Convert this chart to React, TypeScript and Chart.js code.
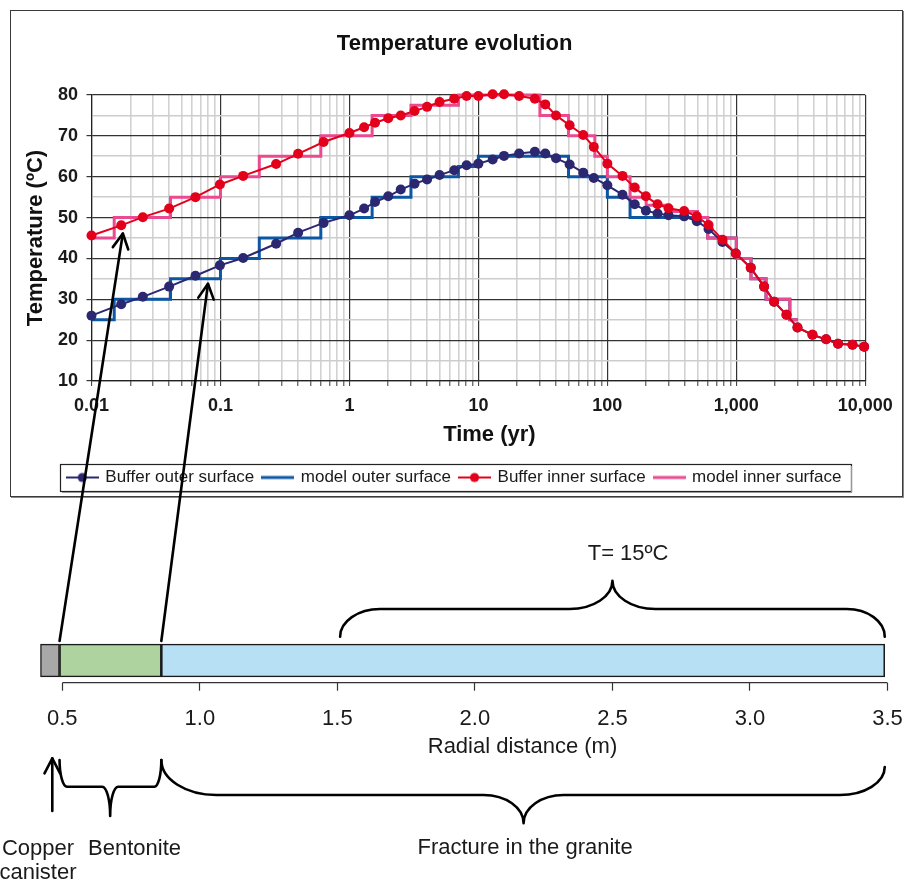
import React, { useEffect, useRef } from "react";
import { Chart, registerables } from "chart.js";

Chart.register(...registerables);

const FONT = "'Liberation Sans', Arial, Helvetica, sans-serif";

// ---------------- data: temperature evolution ----------------
const TIME_YR = [
  0.01, 0.017, 0.025, 0.04, 0.064, 0.099, 0.15, 0.27, 0.4, 0.63,
  1.0, 1.3, 1.58, 2.0, 2.5, 3.2, 4.0, 5.0, 6.5, 8.1,
  10, 12.9, 15.8, 20.7, 27.4, 33, 40, 51, 65, 78.5,
  100, 131, 163, 199, 245, 298, 394, 494, 609, 781,
  991, 1294, 1643, 1964, 2449, 2980, 3895, 4970, 6150, 7960, 9800,
];
const BUFFER_OUTER_C = [
  26.0, 28.8, 30.6, 33.1, 35.75, 38.3, 40.1, 43.6, 46.3, 48.7,
  50.55, 52.2, 53.8, 55.2, 56.85, 58.3, 59.3, 60.4, 61.6, 62.8,
  63.2, 64.2, 65.1, 65.7, 66.1, 65.7, 64.5, 63.0, 61.0, 59.7,
  57.9, 55.6, 53.25, 51.7, 51.0, 50.55, 50.3, 49.1, 47.2, 44.0,
  41.2, 37.7, 33.1, 29.4, 26.2, 23.1, 21.3, 20.2, 19.1, 18.9, 18.4,
];
const BUFFER_INNER_C = [
  45.6, 48.1, 50.1, 52.2, 55.0, 58.1, 60.2, 63.1, 65.6, 68.5,
  70.7, 72.1, 73.2, 74.3, 75.0, 76.1, 77.1, 78.3, 79.1, 79.75,
  79.75, 80.2, 80.2, 79.75, 79.1, 77.7, 75.0, 72.6, 70.2, 67.3,
  63.2, 60.2, 57.35, 55.2, 53.25, 52.3, 51.6, 50.3, 48.2, 44.6,
  41.2, 37.7, 33.1, 29.4, 26.2, 23.1, 21.3, 20.2, 19.1, 18.9, 18.4,
];
// model step functions: value holds from time[i] until time[i+1]
const MODEL_OUTER_TIME = [0.01, 0.015, 0.041, 0.1, 0.2, 0.6, 1.5, 3, 7, 10, 50, 100, 150, 600, 1000, 1300, 1700, 2600, 3000];
const MODEL_OUTER_C = [25, 30, 35, 40, 45, 50, 55, 60, 62.5, 65, 60, 55, 50, 45, 40, 35, 30, 25, 25];
const MODEL_INNER_TIME = [0.01, 0.015, 0.041, 0.1, 0.2, 0.6, 1.5, 3, 7, 30, 50, 80, 100, 150, 200, 300, 500, 600, 1000, 1300, 1700, 2600, 3000];
const MODEL_INNER_C = [45, 50, 55, 60, 65, 70, 75, 77.5, 80, 75, 70, 65, 60, 55, 53, 51.5, 50, 45, 40, 35, 30, 25, 25];

const SERIES_NAMES = ["Buffer outer surface", "model outer surface", "Buffer inner surface", "model inner surface"];

const X_DECADES = [0.01, 0.1, 1, 10, 100, 1000, 10000];
const X_TICK_LABELS = ["0.01", "0.1", "1", "10", "100", "1,000", "10,000"];
const Y_TICKS = [10, 15, 20, 25, 30, 35, 40, 45, 50, 55, 60, 65, 70, 75, 80];
const Y_TICK_LABELS = ["10", "", "20", "", "30", "", "40", "", "50", "", "60", "", "70", "", "80"];
const X_TITLE = "Time (yr)";

// ---------------- data: radial section ----------------
const LAYER_NAMES = ["Copper canister", "Bentonite", "Fracture in the granite"];
const LAYER_FROM_M = [0.42, 0.49, 0.86];
const LAYER_TO_M = [0.49, 0.86, 3.49];
const RADIAL_TICKS = [0.5, 1.0, 1.5, 2.0, 2.5, 3.0, 3.5];
const RADIAL_TITLE = "Radial distance (m)";

// annotation anchors (radial distance -> point of the curve)
const ARROW_FROM_M = [0.49, 0.86];
const ARROW_TO_YR = [0.0175, 0.08];
const ARROW_TO_C = [46.1, 33.8];
const T_FAR_FIELD = "T= 15ºC";

const RED = "#E3001B";
const NAVY = "#2B2771";
const BLUE = "#0B57A4";
const PINK = "#EA4A90";
const LAYER_COLORS = ["#A8A8A8", "#AED39E", "#B8E0F4"];

const isDecade = (v: number) => {
  if (!(v > 0)) return false;
  const l = Math.log10(v);
  return Math.abs(l - Math.round(l)) < 1e-6;
};

function xTickValues(): number[] {
  const out: number[] = [];
  for (let i = 0; i < X_DECADES.length - 1; i++) {
    for (let m = 1; m <= 9; m++) out.push(parseFloat((X_DECADES[i] * m).toPrecision(6)));
  }
  out.push(X_DECADES[X_DECADES.length - 1]);
  return out;
}

function legendIcon(color: string, lineWidth: number, dot: boolean) {
  const c = document.createElement("canvas");
  c.width = 33;
  c.height = 12;
  const g = c.getContext("2d")!;
  g.strokeStyle = color;
  g.lineWidth = lineWidth;
  g.beginPath();
  g.moveTo(0, 6);
  g.lineTo(33, 6);
  g.stroke();
  if (dot) {
    g.fillStyle = color;
    g.beginPath();
    g.arc(16.5, 6, 4.6, 0, Math.PI * 2);
    g.fill();
  }
  return c;
}

function drawBrace(
  ctx: CanvasRenderingContext2D,
  x1: number, x2: number, xm: number,
  yEdge1: number, yEdge2: number, yMid: number, yTip: number,
  r1: number, r2: number, rt: number
) {
  const k = 0.5523;
  ctx.beginPath();
  ctx.moveTo(x1, yEdge1);
  ctx.bezierCurveTo(x1, yEdge1 + k * (yMid - yEdge1), x1 + r1 - k * r1, yMid, x1 + r1, yMid);
  ctx.lineTo(xm - rt, yMid);
  ctx.bezierCurveTo(xm - rt + k * rt, yMid, xm, yTip - k * (yTip - yMid), xm, yTip);
  ctx.bezierCurveTo(xm, yTip - k * (yTip - yMid), xm + rt - k * rt, yMid, xm + rt, yMid);
  ctx.lineTo(x2 - r2, yMid);
  ctx.bezierCurveTo(x2 - r2 + k * r2, yMid, x2, yEdge2 + k * (yMid - yEdge2), x2, yEdge2);
  ctx.stroke();
}

function drawArrow(ctx: CanvasRenderingContext2D, tx: number, ty: number, fx: number, fy: number) {
  const dx = fx - tx, dy = fy - ty;
  const len = Math.hypot(dx, dy);
  const ux = dx / len, uy = dy / len;
  const nx = -uy, ny = ux;
  ctx.beginPath();
  ctx.moveTo(fx, fy);
  ctx.lineTo(tx, ty);
  ctx.stroke();
  ctx.beginPath();
  ctx.moveTo(tx + ux * 15 + nx * 7.8, ty + uy * 15 + ny * 7.8);
  ctx.lineTo(tx, ty);
  ctx.lineTo(tx + ux * 15 - nx * 7.8, ty + uy * 15 - ny * 7.8);
  ctx.stroke();
}

export default function App() {
  const topRef = useRef<HTMLCanvasElement>(null);
  const botRef = useRef<HTMLCanvasElement>(null);
  const ovRef = useRef<HTMLCanvasElement>(null);

  useEffect(() => {
    Chart.defaults.font.family = FONT;
    const icons = [
      legendIcon(NAVY, 2, true),
      legendIcon(BLUE, 3, false),
      legendIcon(RED, 2, true),
      legendIcon(PINK, 3, false),
    ];

    const tickFont = { family: FONT, size: 18, weight: "bold" as const };
    const titleFont = { family: FONT, size: 22, weight: "bold" as const };

    const topDecor = {
      id: "topDecor",
      afterDraw(chart: any) {
        const ctx: CanvasRenderingContext2D = chart.ctx;
        const ca = chart.chartArea;
        ctx.save();
        // x-axis title
        ctx.fillStyle = "#111";
        ctx.font = `bold 22px ${FONT}`;
        ctx.textAlign = "center";
        ctx.textBaseline = "middle";
        ctx.fillText(X_TITLE, (ca.left + ca.right) / 2 + 11, ca.bottom + 54);
        // legend frame
        const hb = chart.legend?.legendHitBoxes;
        if (hb && hb.length) {
          const left = Math.min(...hb.map((h: any) => h.left)) - 8;
          const right = Math.max(...hb.map((h: any) => h.left + h.width)) + 9;
          const top = hb[0].top - 5;
          const bottom = hb[0].top + hb[0].height + 5;
          ctx.strokeStyle = "#222";
          ctx.lineWidth = 1.2;
          ctx.strokeRect(Math.round(left) + 0.5, Math.round(top) + 0.5, Math.round(right - left), Math.round(bottom - top));
          ctx.strokeStyle = "#999";
          ctx.beginPath();
          ctx.moveTo(Math.round(left) + 2, Math.round(bottom) + 1.5);
          ctx.lineTo(Math.round(right) + 1.5, Math.round(bottom) + 1.5);
          ctx.lineTo(Math.round(right) + 1.5, Math.round(top) + 2);
          ctx.stroke();
        }
        ctx.restore();
      },
    };

    const top = new Chart(topRef.current!, {
      type: "line",
      data: {
        datasets: [
          {
            label: SERIES_NAMES[2],
            data: TIME_YR.map((t, i) => ({ x: t, y: BUFFER_INNER_C[i] })),
            borderColor: RED, backgroundColor: RED, borderWidth: 2,
            pointRadius: 5, pointHoverRadius: 5, pointBorderWidth: 0, pointBackgroundColor: RED,
            order: 0, clip: false as any,
          },
          {
            label: SERIES_NAMES[0],
            data: TIME_YR.map((t, i) => ({ x: t, y: BUFFER_OUTER_C[i] })),
            borderColor: NAVY, backgroundColor: NAVY, borderWidth: 2,
            pointRadius: 5, pointHoverRadius: 5, pointBorderWidth: 0, pointBackgroundColor: NAVY,
            order: 1, clip: false as any,
          },
          {
            label: SERIES_NAMES[3],
            data: MODEL_INNER_TIME.map((t, i) => ({ x: t, y: MODEL_INNER_C[i] })),
            borderColor: PINK, backgroundColor: PINK, borderWidth: 3, pointRadius: 0,
            stepped: "before", order: 2, clip: false as any,
          },
          {
            label: SERIES_NAMES[1],
            data: MODEL_OUTER_TIME.map((t, i) => ({ x: t, y: MODEL_OUTER_C[i] })),
            borderColor: BLUE, backgroundColor: BLUE, borderWidth: 3, pointRadius: 0,
            stepped: "before", order: 3, clip: false as any,
          },
        ],
      },
      options: {
        animation: false,
        responsive: false,
        devicePixelRatio: 1,
        layout: { padding: { left: 32.7, right: 36.5, top: 0, bottom: 0 } },
        plugins: {
          tooltip: { enabled: false },
          title: {
            display: true,
            text: "Temperature evolution",
            color: "#111",
            font: titleFont,
            padding: { top: 19.6, bottom: 38 },
          },
          legend: {
            position: "bottom",
            labels: {
              usePointStyle: true,
              pointStyleWidth: 29,
              padding: 9,
              color: "#1a1a1a",
              font: { family: FONT, size: 17 },
              generateLabels: () =>
                [1, 3, 0, 2].map((di, i) => ({
                  text: SERIES_NAMES[i],
                  pointStyle: icons[i] as any,
                  fillStyle: "rgba(0,0,0,0)",
                  strokeStyle: "rgba(0,0,0,0)",
                  lineWidth: 0,
                  hidden: false,
                  datasetIndex: di,
                  fontColor: "#1a1a1a",
                })),
            },
          },
        },
        scales: {
          x: {
            type: "logarithmic",
            min: 0.01,
            max: 10000,
            afterBuildTicks: (s: any) => {
              s.ticks = xTickValues().map((v) => ({ value: v }));
            },
            afterFit: (s: any) => {
              s.height = 79;
            },
            ticks: {
              autoSkip: false,
              maxRotation: 0,
              minRotation: 0,
              padding: 9.2,
              color: "#1a1a1a",
              font: tickFont,
              callback: (v: any) => {
                const i = X_DECADES.findIndex((d) => Math.abs(d - Number(v)) / d < 1e-6);
                return i >= 0 ? X_TICK_LABELS[i] : "";
              },
            },
            grid: {
              color: (c: any) => (isDecade(c.tick?.value) ? "#333" : "#d2d2d2"),
              lineWidth: (c: any) => (isDecade(c.tick?.value) ? 1.2 : 1.6),
              tickColor: "#333",
              tickLength: 5,
              tickWidth: 1,
            },
            border: { color: "#222", width: 1.2 },
            title: { display: false },
          },
          y: {
            type: "linear",
            min: 10,
            max: 80,
            afterBuildTicks: (s: any) => {
              s.ticks = Y_TICKS.map((v) => ({ value: v }));
            },
            afterFit: (s: any) => {
              s.width = 47.8;
            },
            ticks: {
              autoSkip: false,
              padding: 8.5,
              color: "#1a1a1a",
              font: tickFont,
              callback: (v: any) => {
                const i = Y_TICKS.indexOf(Number(v));
                return i >= 0 ? Y_TICK_LABELS[i] : "";
              },
            },
            grid: {
              color: (c: any) => (c.tick && c.tick.value % 10 === 0 ? "#333" : "#cdcdcd"),
              lineWidth: (c: any) => (c.tick && c.tick.value % 10 === 0 ? 1.2 : 1.6),
              tickColor: (c: any) => (c.tick && c.tick.value % 10 === 0 ? "#333" : "rgba(0,0,0,0)"),
              tickLength: 5,
            },
            border: { color: "#222", width: 1.2 },
            title: {
              display: true,
              text: "Temperature (ºC)",
              color: "#111",
              font: titleFont,
              padding: { top: -20.9, bottom: 0 },
            },
          },
        },
      } as any,
      plugins: [topDecor],
    });

    const radialDecor = {
      id: "radialDecor",
      afterDraw(chart: any) {
        const ctx: CanvasRenderingContext2D = chart.ctx;
        const xs = chart.scales.x;
        const ca = chart.chartArea;
        const px = (r: number) => xs.getPixelForValue(r);
        const el = chart.getDatasetMeta(2).data[0];
        const { y, height } = el.getProps(["y", "height"], true);
        const barTop = y - height / 2;
        const barBottom = y + height / 2;
        ctx.save();
        // axis line between first and last tick
        ctx.strokeStyle = "#333";
        ctx.lineWidth = 1.2;
        ctx.beginPath();
        ctx.moveTo(px(RADIAL_TICKS[0]), ca.bottom);
        ctx.lineTo(px(RADIAL_TICKS[RADIAL_TICKS.length - 1]), ca.bottom);
        ctx.stroke();

        ctx.strokeStyle = "#000";
        ctx.lineWidth = 2.6;
        ctx.lineCap = "round";
        ctx.lineJoin = "round";
        // far-field brace above the bar
        drawBrace(ctx, px(1.51), px(3.49), px(2.5),
          barTop - 7.3, barTop - 7.3, barTop - 35, barTop - 63.3, 40, 38, 43);
        // bentonite brace
        drawBrace(ctx, px(LAYER_FROM_M[1]), px(LAYER_TO_M[1]), px(0.674),
          barBottom + 83, barBottom + 83, barBottom + 109.7, barBottom + 139, 7.5, 7, 8);
        // granite brace
        drawBrace(ctx, px(LAYER_FROM_M[2]), px(LAYER_TO_M[2]), px(2.177),
          barBottom + 83, barBottom + 90, barBottom + 118, barBottom + 146.3, 55, 45, 40);
        // copper canister arrow
        drawArrow(ctx, px(0.4636), barBottom + 81.3, px(0.4636), barBottom + 134);

        ctx.fillStyle = "#1a1a1a";
        ctx.font = `22px ${FONT}`;
        ctx.textAlign = "center";
        ctx.textBaseline = "middle";
        ctx.fillText(RADIAL_TITLE, (ca.left + ca.right) / 2 + 58.6, ca.bottom + 64);
        ctx.fillText(T_FAR_FIELD, px(2.557), barTop - 90);
        ctx.fillText("Copper", px(0.4116), barBottom + 172);
        ctx.fillText("canister", px(0.4116), barBottom + 196);
        ctx.fillText(LAYER_NAMES[1], px(0.7625), barBottom + 172);
        ctx.fillText(LAYER_NAMES[2], px(2.1825), barBottom + 171);
        ctx.restore();
      },
    };

    const bot = new Chart(botRef.current!, {
      type: "bar",
      data: {
        labels: ["section"],
        datasets: LAYER_NAMES.map((name, i) => ({
          label: name,
          data: [[LAYER_FROM_M[i], LAYER_TO_M[i]]],
          backgroundColor: LAYER_COLORS[i],
          borderColor: "#1a1a1a",
          borderWidth: 1.6,
          borderSkipped: false,
          barThickness: 33,
          grouped: false,
        })) as any,
      },
      options: {
        animation: false,
        responsive: false,
        devicePixelRatio: 1,
        indexAxis: "y",
        layout: { padding: { left: 40.3, right: 19.5, top: 118.3, bottom: 124.1 } },
        plugins: { legend: { display: false }, tooltip: { enabled: false }, title: { display: false } },
        scales: {
          y: { type: "category", display: false },
          x: {
            type: "linear",
            min: 0.42,
            max: 3.5,
            afterBuildTicks: (s: any) => {
              s.ticks = RADIAL_TICKS.map((v) => ({ value: v }));
            },
            afterFit: (s: any) => {
              s.height = 77.2;
              s.paddingLeft = 0;
              s.paddingRight = 0;
            },
            ticks: {
              autoSkip: false,
              maxRotation: 0,
              padding: 15.4,
              color: "#1a1a1a",
              font: { family: FONT, size: 22 },
              callback: (v: any) => Number(v).toFixed(1),
            },
            grid: { drawOnChartArea: false, drawTicks: true, tickLength: 8, tickColor: "#333", tickWidth: 1.2 },
            border: { display: false },
            title: { display: false },
          },
        },
      } as any,
      plugins: [radialDecor],
    });

    // overlay arrows linking the radial section to the curves
    const ov = ovRef.current!;
    const octx = ov.getContext("2d")!;
    octx.clearRect(0, 0, ov.width, ov.height);
    const ovr = ov.getBoundingClientRect();
    const tr = topRef.current!.getBoundingClientRect();
    const br = botRef.current!.getBoundingClientRect();
    const el: any = bot.getDatasetMeta(2).data[0];
    const { y: by, height: bh } = el.getProps(["y", "height"], true);
    const barTopPage = br.top - ovr.top + by - bh / 2;
    octx.strokeStyle = "#000";
    octx.lineWidth = 2.6;
    octx.lineCap = "round";
    octx.lineJoin = "round";
    ARROW_FROM_M.forEach((r, i) => {
      const fx = br.left - ovr.left + (bot.scales.x as any).getPixelForValue(r);
      const fy = barTopPage - 3;
      const tx = tr.left - ovr.left + (top.scales.x as any).getPixelForValue(ARROW_TO_YR[i]);
      const ty = tr.top - ovr.top + (top.scales.y as any).getPixelForValue(ARROW_TO_C[i]);
      drawArrow(octx, tx, ty, fx, fy);
    });

    return () => {
      top.destroy();
      bot.destroy();
    };
  }, []);

  return (
    <div style={{ position: "fixed", left: 0, top: 0, width: 907, height: 884, background: "#fff" }}>
      <div
        style={{
          position: "absolute", left: 10, top: 10, width: 893, height: 487,
          boxSizing: "border-box", border: "1px solid #3a3a3a", boxShadow: "1px 1px 0 #8a8a8a",
        }}
      />
      <canvas ref={topRef} width={891} height={485} style={{ position: "absolute", left: 11, top: 11, display: "block" }} />
      <canvas ref={botRef} width={907} height={364} style={{ position: "absolute", left: 0, top: 520, display: "block" }} />
      <canvas ref={ovRef} width={907} height={884} style={{ position: "absolute", left: 0, top: 0, display: "block", pointerEvents: "none" }} />
    </div>
  );
}
